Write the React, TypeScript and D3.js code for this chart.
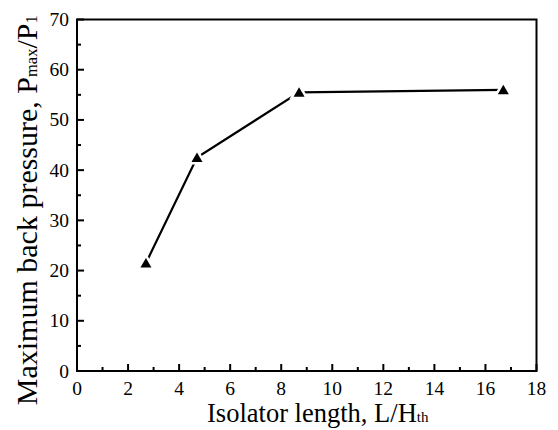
import React from "react";
import * as d3 from "d3";

const lengthRatio = [2.7, 4.7, 8.7, 16.7];
const backPressure = [21.5, 42.5, 55.5, 56.0];
const xMajorTicks = [0, 2, 4, 6, 8, 10, 12, 14, 16, 18];
const xMinorTicks = [1, 3, 5, 7, 9, 11, 13, 15, 17];
const yMajorTicks = [0, 10, 20, 30, 40, 50, 60, 70];
const yMinorTicks = [5, 15, 25, 35, 45, 55, 65];

const W = 558;
const H = 430;
const M = { left: 77, right: 21.5, top: 19.5, bottom: 59 };
const FONT = "'Liberation Serif', 'Times New Roman', serif";

export default function App() {
  const x = d3.scaleLinear().domain([0, 18]).range([M.left, W - M.right]);
  const y = d3.scaleLinear().domain([0, 70]).range([H - M.bottom, M.top]);
  const pts = lengthRatio.map((v, i) => [x(v), y(backPressure[i])] as [number, number]);
  const line = d3.line()(pts) || "";
  const tri = "M0,-5L5.5,4.5L-5.5,4.5Z";
  const x0 = M.left, x1 = W - M.right, y0 = H - M.bottom, y1 = M.top;
  const cx = (x0 + x1) / 2;
  const cy = (y0 + y1) / 2;

  return (
    <svg width={W} height={H} style={{ position: "absolute", left: 0, top: 0, background: "#fff" }} fontFamily={FONT}>
      <rect x={0} y={0} width={W} height={H} fill="#fff" />
      {/* ticks */}
      {xMajorTicks.map((t) => (
        <line key={"xM" + t} x1={x(t)} x2={x(t)} y1={y0} y2={y0 - 7} stroke="#000" strokeWidth={2} />
      ))}
      {xMinorTicks.map((t) => (
        <line key={"xm" + t} x1={x(t)} x2={x(t)} y1={y0} y2={y0 - 4} stroke="#000" strokeWidth={2} />
      ))}
      {yMajorTicks.map((t) => (
        <line key={"yM" + t} x1={x0} x2={x0 + 7} y1={y(t)} y2={y(t)} stroke="#000" strokeWidth={2} />
      ))}
      {yMinorTicks.map((t) => (
        <line key={"ym" + t} x1={x0} x2={x0 + 4} y1={y(t)} y2={y(t)} stroke="#000" strokeWidth={2} />
      ))}
      <rect x={x0} y={y1} width={x1 - x0} height={y0 - y1} fill="none" stroke="#000" strokeWidth={2} />
      {/* tick labels */}
      {xMajorTicks.map((t) => (
        <text key={"xl" + t} x={x(t)} y={y0 + 24} textAnchor="middle" fontSize={19.5}>
          {t}
        </text>
      ))}
      {yMajorTicks.map((t) => (
        <text key={"yl" + t} x={x0 - 8} y={y(t) + 6.5} textAnchor="end" fontSize={19.5}>
          {t}
        </text>
      ))}
      {/* series */}
      <path d={line} fill="none" stroke="#000" strokeWidth={2.2} />
      {pts.map((p, i) => (
        <path
          key={"p" + i}
          d={tri}
          transform={`translate(${p[0]},${p[1]})`}
          fill="#000"
          stroke="#fff"
          strokeWidth={5}
          style={{ paintOrder: "stroke" }}
          strokeLinejoin="miter"
        />
      ))}
      {/* axis titles */}
      <text x={cx + 11} y={422} textAnchor="middle" fontSize={26.5}>
        Isolator length, L/H<tspan fontSize={15}>th</tspan>
      </text>
      <text transform={`translate(37,${cy + 15}) rotate(-90)`} textAnchor="middle" fontSize={30}>
        Maximum back pressure, P<tspan fontSize={16.5}>max</tspan>/P<tspan fontSize={16.5}>1</tspan>
      </text>
    </svg>
  );
}
